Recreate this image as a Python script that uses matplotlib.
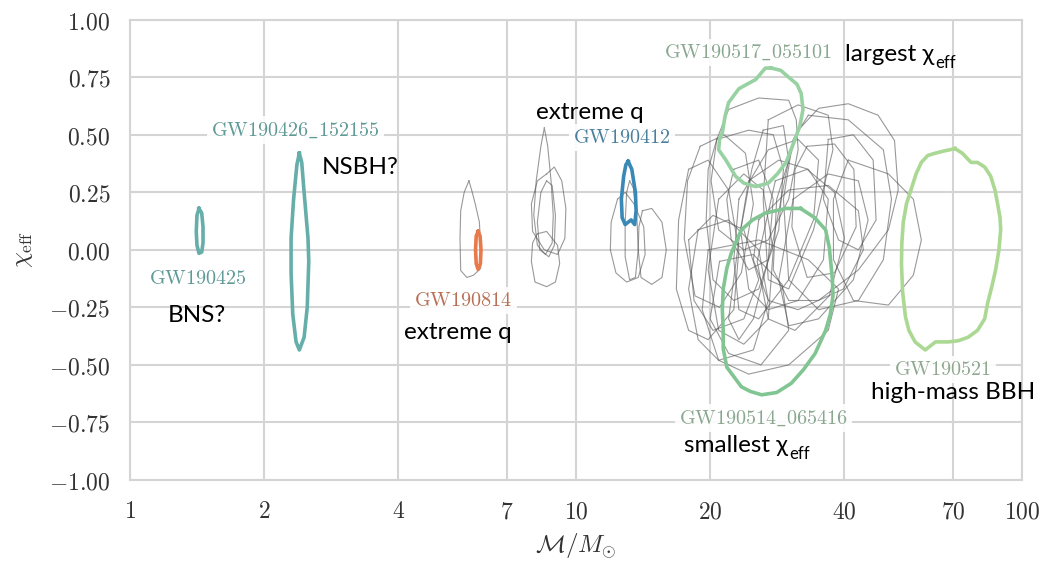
import matplotlib
matplotlib.use("Agg")
import matplotlib.pyplot as plt
import numpy as np

# ---- data: 90% credible contours in (chirp mass, chi_eff) ----
gw190425 = [(1.43, 0.18), (1.45, 0.16), (1.46, 0.10), (1.46, 0.03), (1.45, -0.01),
            (1.43, -0.015), (1.415, 0.02), (1.41, 0.08), (1.415, 0.15)]
gw190426 = [(2.40, 0.42), (2.43, 0.38), (2.46, 0.25), (2.51, 0.05), (2.52, -0.05),
            (2.50, -0.25), (2.46, -0.38), (2.40, -0.435), (2.36, -0.40), (2.32, -0.28),
            (2.30, -0.10), (2.30, 0.05), (2.33, 0.22), (2.37, 0.37)]
gw190814 = [(6.04, 0.08), (6.10, 0.06), (6.13, 0.0), (6.11, -0.06), (6.04, -0.085),
            (5.98, -0.06), (5.96, 0.0), (5.98, 0.06)]
gw190412 = [(13.1, 0.385), (13.35, 0.35), (13.6, 0.25), (13.65, 0.17), (13.55, 0.11),
            (13.3, 0.13), (13.1, 0.12), (12.9, 0.11), (12.7, 0.14), (12.65, 0.22),
            (12.8, 0.32), (12.95, 0.37)]
gw190517 = [(27.4, 0.79), (28.8, 0.78), (30.0, 0.75), (31.3, 0.72), (32.0, 0.68),
            (32.3, 0.61), (31.8, 0.54), (31.0, 0.48), (29.6, 0.38), (28.3, 0.33),
            (27.0, 0.29), (25.3, 0.275), (23.8, 0.29), (22.8, 0.32), (21.7, 0.39),
            (20.9, 0.435), (21.0, 0.48), (21.3, 0.51), (21.6, 0.58), (22.0, 0.64),
            (23.2, 0.70), (24.2, 0.72), (25.3, 0.74), (26.6, 0.79)]
gw190514 = [(31.9, 0.18), (34.3, 0.14), (36.3, 0.087), (37.0, 0.01), (37.3, -0.06),
            (37.6, -0.13), (37.7, -0.20), (37.2, -0.28), (36.3, -0.35), (34.4, -0.45),
            (32.4, -0.52), (30.4, -0.58), (28.2, -0.62), (26.1, -0.63), (24.6, -0.615),
            (23.5, -0.595), (21.8, -0.51), (21.4, -0.43), (21.4, -0.35), (21.3, -0.26),
            (21.4, -0.17), (21.8, -0.08), (22.3, -0.015), (23.5, 0.087), (24.9, 0.13),
            (26.6, 0.16), (29.6, 0.18)]
gw190521 = [(70.8, 0.44), (73.5, 0.42), (76.9, 0.38), (79.5, 0.38), (82.5, 0.36),
            (85.1, 0.32), (87.0, 0.26), (88.2, 0.20), (89.3, 0.14), (89.6, 0.087),
            (88.8, 0.0), (87.3, -0.087), (85.6, -0.16), (83.8, -0.23), (82.5, -0.30),
            (79.5, -0.35), (75.7, -0.38), (72.0, -0.395), (68.4, -0.40), (64.0, -0.40),
            (60.7, -0.435), (57.6, -0.40), (55.8, -0.35), (54.8, -0.29), (54.0, -0.18),
            (53.7, -0.06), (53.8, 0.03), (54.2, 0.12), (55.1, 0.20), (56.6, 0.27),
            (57.9, 0.33), (59.5, 0.38), (61.5, 0.41), (63.9, 0.42), (67.0, 0.43)]

# remaining O3a events (thin grey contours)
other_events = [
    [(5.76, 0.30), (5.84, 0.26), (5.95, 0.20), (6.08, 0.12), (6.12, 0.0), (6.12, -0.08),
     (5.90, -0.11), (5.70, -0.12), (5.52, -0.09), (5.50, 0.05), (5.52, 0.17), (5.62, 0.25)],
    [(8.5, 0.53), (8.65, 0.45), (8.8, 0.30), (8.9, 0.15), (8.85, 0.03), (8.55, -0.02),
     (8.2, 0.02), (8.05, 0.15), (8.15, 0.30), (8.35, 0.45)],
    [(8.6, 0.33), (8.95, 0.36), (9.3, 0.30), (9.5, 0.18), (9.45, 0.05), (9.1, -0.02),
     (8.5, 0.0), (8.0, 0.08), (7.95, 0.20), (8.2, 0.30)],
    [(8.2, 0.07), (8.6, 0.08), (9.1, 0.02), (9.2, -0.06), (9.0, -0.14), (8.6, -0.16),
     (8.1, -0.14), (7.95, -0.05), (8.0, 0.03)],
    [(8.6, 0.30), (8.85, 0.28), (9.0, 0.15), (8.95, 0.02), (8.7, -0.03), (8.3, 0.0),
     (8.2, 0.12), (8.35, 0.25)],
    [(12.4, 0.22), (12.9, 0.25), (13.5, 0.20), (14.2, 0.10), (14.3, -0.02), (13.8, -0.12),
     (13.0, -0.14), (12.3, -0.10), (11.95, 0.0), (12.0, 0.12)],
    [(13.2, 0.30), (13.45, 0.27), (13.7, 0.15), (13.8, 0.0), (13.6, -0.12), (13.2, -0.13),
     (12.9, -0.03), (12.9, 0.12), (13.0, 0.25)],
    [(14.1, 0.17), (14.8, 0.18), (15.6, 0.12), (15.95, 0.0), (15.6, -0.12), (14.8, -0.15),
     (14.0, -0.12), (13.8, 0.0), (13.85, 0.10)],
    [(31.5, 0.52), (35.0, 0.615), (40.8, 0.635), (47.6, 0.585), (51.8, 0.475), (52.8, 0.26),
     (50.2, 0.087), (43.0, -0.087), (35.0, -0.22), (30.0, -0.22), (27.7, -0.087), (28.2, 0.22)],
    [(33.2, 0.585), (40.8, 0.565), (48.9, 0.435), (51.0, 0.22), (48.9, -0.043), (43.0, -0.22),
     (35.0, -0.26), (30.0, -0.13), (29.2, 0.22), (30.7, 0.48)],
    [(40.8, 0.39), (50.2, 0.33), (57.1, 0.22), (59.5, 0.043), (57.1, -0.11), (50.2, -0.24),
     (41.9, -0.22), (37.8, -0.043), (37.8, 0.22)],
    [(22.0, 0.61), (25.7, 0.66), (30.0, 0.65), (31.2, 0.565), (31.5, 0.435), (30.0, 0.22),
     (27.0, 0.043), (23.8, 0.0), (20.9, 0.087), (20.1, 0.30), (20.7, 0.48)],
    [(20.7, 0.48), (24.4, 0.52), (27.7, 0.50), (29.2, 0.35), (28.5, 0.087), (25.7, -0.17),
     (22.6, -0.22), (20.3, -0.13), (19.6, 0.13), (19.8, 0.35)],
    [(17.9, 0.35), (19.8, 0.39), (22.0, 0.26), (23.2, 0.0), (22.6, -0.26), (19.8, -0.39),
     (17.9, -0.35), (16.8, -0.17), (17.0, 0.13)],
    [(18.8, 0.087), (22.0, 0.13), (25.7, 0.0), (27.0, -0.22), (25.0, -0.435), (20.9, -0.48),
     (18.8, -0.39), (17.9, -0.17)],
    [(19.8, 0.0), (25.7, 0.043), (33.2, -0.043), (38.8, -0.17), (36.8, -0.35), (30.0, -0.50),
     (24.4, -0.54), (20.9, -0.48), (19.2, -0.26)],
    [(23.2, 0.22), (27.0, 0.435), (31.5, 0.48), (35.0, 0.39), (34.1, 0.13), (30.0, -0.13),
     (25.7, -0.30), (23.2, -0.26), (22.6, -0.043)],
    [(24.4, 0.30), (28.5, 0.39), (33.2, 0.35), (36.8, 0.22), (35.9, -0.043), (31.5, -0.22),
     (27.0, -0.26), (24.4, -0.17), (23.4, 0.087)],
    [(25.7, 0.13), (30.0, 0.26), (36.8, 0.28), (43.0, 0.17), (44.1, 0.0), (39.8, -0.17),
     (31.5, -0.26), (27.0, -0.22), (25.0, -0.043)],
    [(26.3, 0.52), (29.2, 0.54), (30.0, 0.39), (27.7, 0.043), (25.0, -0.30), (23.2, -0.39),
     (22.0, -0.30), (23.2, 0.043), (24.8, 0.35)],
    [(20.9, 0.22), (23.8, 0.33), (26.3, 0.26), (27.7, 0.0), (27.0, -0.30), (23.8, -0.41),
     (20.9, -0.35), (19.8, -0.087)],
    [(30.7, 0.22), (36.8, 0.33), (43.0, 0.30), (45.2, 0.13), (41.9, -0.13), (35.0, -0.30),
     (30.0, -0.33), (28.5, -0.13)],
    [(27.0, 0.565), (31.5, 0.63), (36.8, 0.585), (37.7, 0.435), (34.1, 0.087), (30.0, -0.17),
     (27.0, -0.13), (26.3, 0.22)],
    [(22.6, 0.35), (25.7, 0.39), (27.7, 0.22), (27.0, -0.043), (24.4, -0.087), (22.3, 0.043),
     (21.8, 0.22)],
    [(36.8, 0.48), (41.9, 0.50), (46.4, 0.39), (47.1, 0.13), (43.0, 0.0), (38.8, 0.043),
     (35.9, 0.22)],
    [(17.9, 0.043), (20.3, 0.15), (23.8, 0.087), (25.7, -0.13), (23.8, -0.30), (20.3, -0.35),
     (18.4, -0.22)],
    [(19.0, 0.45), (21.5, 0.50), (24.0, 0.42), (25.0, 0.20), (23.5, -0.10), (21.0, -0.25),
     (18.5, -0.20), (17.5, 0.05), (17.8, 0.30)],
    [(28.0, 0.30), (33.0, 0.35), (38.0, 0.25), (40.0, 0.05), (37.0, -0.20), (31.0, -0.35),
     (27.0, -0.30), (25.5, -0.05)],
    [(21.0, -0.05), (25.0, -0.02), (29.0, -0.15), (30.0, -0.35), (26.0, -0.50), (22.0, -0.45),
     (20.0, -0.30)],
    [(33.0, 0.45), (38.0, 0.46), (42.0, 0.35), (42.5, 0.10), (38.0, -0.10), (33.0, -0.12),
     (30.5, 0.10), (31.0, 0.35)],
]

x_ticks = [1, 2, 4, 7, 10, 20, 40, 70, 100]
y_ticks = [-1.0, -0.75, -0.5, -0.25, 0.0, 0.25, 0.5, 0.75, 1.0]

plt.rcParams["mathtext.fontset"] = "cm"
plt.rcParams["font.family"] = ["DejaVu Sans"]

GRID = "#d4d4d4"


def closed(pts):
    arr = np.array(pts + pts[:1])
    return arr[:, 0], arr[:, 1]


fig = plt.figure(figsize=(10.46, 5.64), dpi=100)
ax = fig.add_axes([0.124, 0.149, 0.853, 0.816])
ax.set_xscale("log")
ax.set_xlim(1, 100)
ax.set_ylim(-1, 1)

for c in other_events:
    x, y = closed(c)
    ax.plot(x, y, color="#555555", lw=0.8, alpha=0.6, solid_joinstyle="round", zorder=2)

highlights = [
    (gw190425, "#66aeaa", "#5f9a97", "GW190425", (1.42, -0.125)),
    (gw190426, "#66aeaa", "#5f9a97", "GW190426\\_152155", (2.35, 0.52)),
    (gw190814, "#e8794a", "#b86f55", "GW190814", (5.6, -0.22)),
    (gw190412, "#3a88b5", "#4a7f9e", "GW190412", (12.7, 0.49)),
    (gw190517, "#98d2a2", "#8aa890", "GW190517\\_055101", (24.4, 0.857)),
    (gw190514, "#80c592", "#8aa890", "GW190514\\_065416", (26.3, -0.73)),
    (gw190521, "#abd893", "#8fa88f", "GW190521", (66.5, -0.52)),
]
for pts, lc, tc, name, (tx, ty) in highlights:
    x, y = closed(pts)
    ax.plot(x, y, color=lc, lw=2.6, solid_joinstyle="round", zorder=3)
    ax.text(tx, ty, r"$\mathrm{" + name + "}$", color=tc, fontsize=14.5,
            ha="center", va="center", zorder=4,
            bbox=dict(boxstyle="square,pad=0.2", fc="white", ec="none", alpha=0.9))

# hand-written annotations
note_kw = dict(family=["Lato", "DejaVu Sans"], fontsize=17.5, color="black",
               ha="left", va="center", zorder=5)
ax.text(1.216, -0.287, "BNS?", **note_kw)
ax.text(2.70, 0.357, "NSBH?", **note_kw)
ax.text(8.14, 0.596, "extreme q", **note_kw)
ax.text(4.12, -0.357, "extreme q", **note_kw)
ax.text(45.9, -0.62, "high-mass BBH", **note_kw)
for tx, ty, word in [(40.2, 0.848, "largest "), (17.5, -0.85, "smallest ")]:
    t = ax.text(tx, ty, word + "\u03c7", **note_kw)
    ax.annotate("eff", xy=(1, 0), xycoords=t, xytext=(0.5, -4),
                textcoords="offset points", family=["Lato", "DejaVu Sans"],
                fontsize=12, ha="left", va="bottom", zorder=5)

ax.set_xticks(x_ticks)
ax.set_xticklabels([f"${v}$" for v in x_ticks])
ax.xaxis.set_minor_locator(matplotlib.ticker.NullLocator())
ax.set_yticks(y_ticks)
ax.set_yticklabels([f"${v:.2f}$" for v in y_ticks])
ax.tick_params(length=0, labelsize=17, labelcolor="#333333", pad=14)
ax.grid(True, color=GRID, lw=1.5)
ax.set_axisbelow(True)
for s in ax.spines.values():
    s.set_color(GRID)
    s.set_linewidth(1.5)

ax.set_xlabel(r"$\mathcal{M}/M_{\odot}$", fontsize=18, color="#333333", labelpad=6)
ax.set_ylabel(r"$\chi_{\rm eff}$", fontsize=18, color="#333333", labelpad=10)

fig.savefig("out.png", dpi=100)
